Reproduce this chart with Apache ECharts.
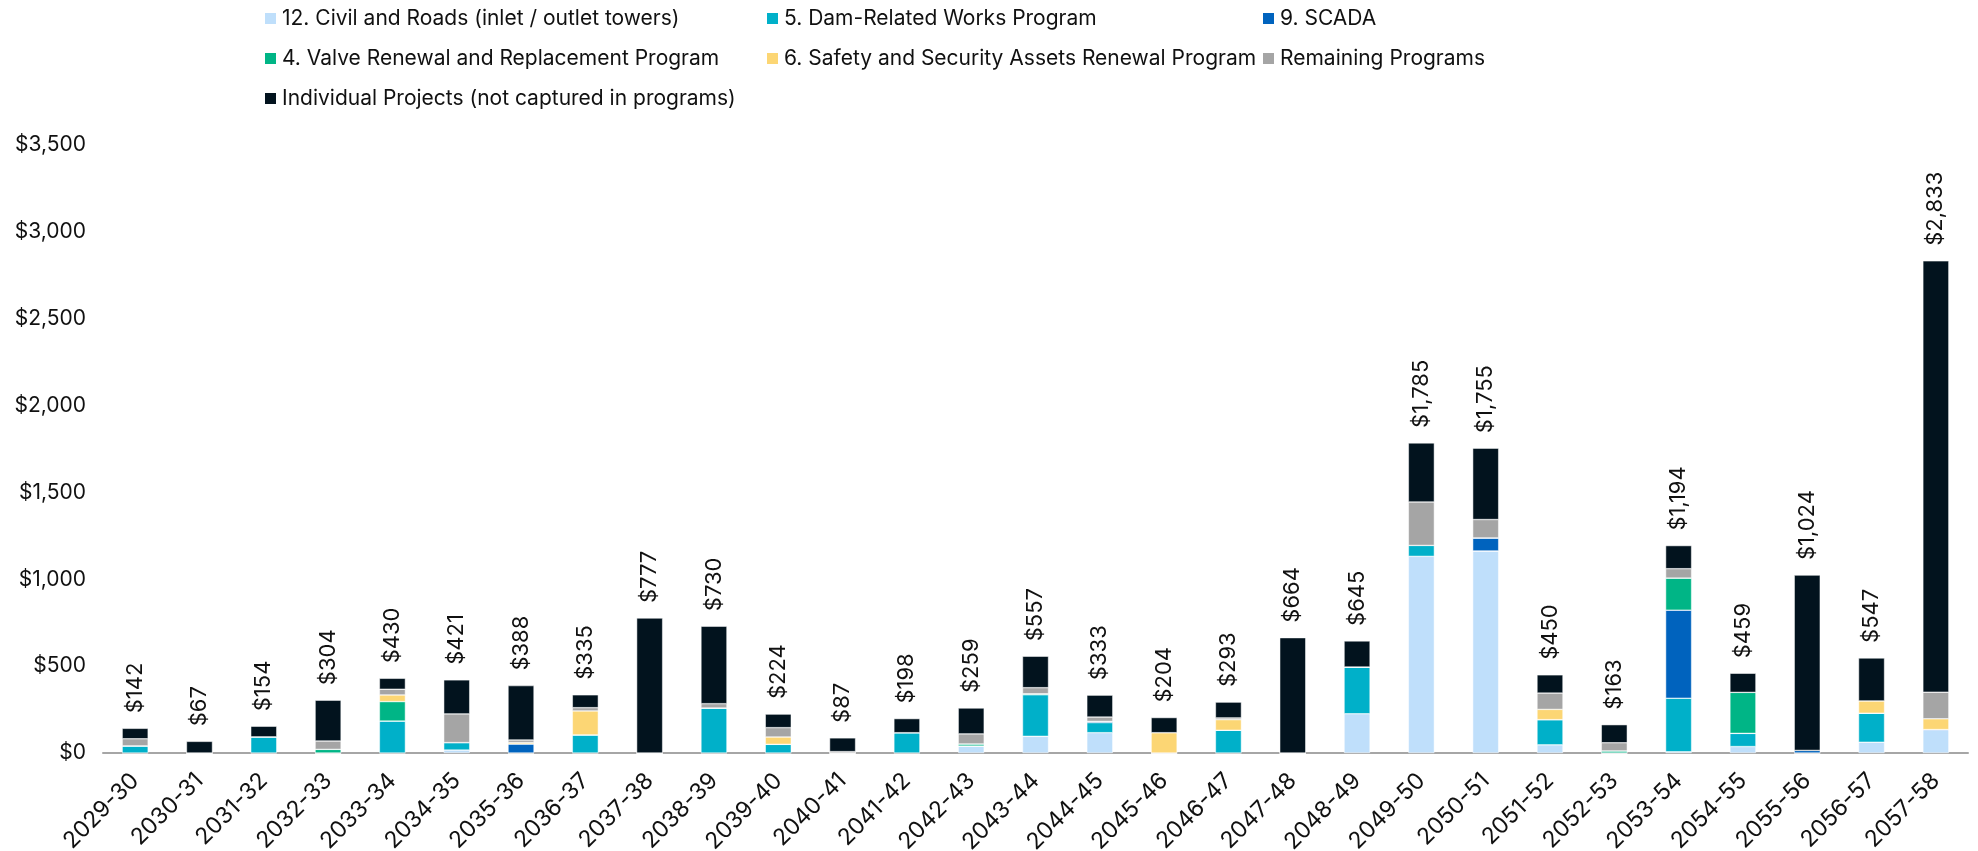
<!DOCTYPE html>
<html>
<head>
<meta charset="utf-8">
<script src="https://cdn.jsdelivr.net/npm/echarts@6/dist/echarts.min.js"></script>
<style>
  html, body { margin: 0; padding: 0; background: #fff; }
  #chart { width: 1978px; height: 851px; }
</style>
</head>
<body>
<div id="chart"></div>
<script>
const years = ['2029-30', '2030-31', '2031-32', '2032-33', '2033-34', '2034-35', '2035-36', '2036-37', '2037-38', '2038-39',
  '2039-40', '2040-41', '2041-42', '2042-43', '2043-44', '2044-45', '2045-46', '2046-47', '2047-48', '2048-49',
  '2049-50', '2050-51', '2051-52', '2052-53', '2053-54', '2054-55', '2055-56', '2056-57', '2057-58']

// segments, bottom to top
const civilRoads = [0, 0, 0, 0, 0, 17, 0, 0, 0, 0, 0, 0, 0, 40, 96, 117, 0, 0, 0, 226, 1132, 1163, 47, 0, 7, 37, 0, 62, 135]
const damWorks = [41, 0, 93, 0, 184, 43, 0, 104, 0, 259, 50, 0, 117, 0, 240, 58, 0, 131, 0, 269, 63, 0, 145, 0, 308, 76, 0, 167, 0]
const scada = [0, 0, 0, 0, 0, 0, 52, 0, 0, 0, 0, 0, 0, 0, 0, 7, 0, 0, 0, 0, 0, 75, 0, 0, 507, 0, 15, 0, 0]
const valveRenewal = [0, 0, 0, 21, 112, 0, 0, 0, 0, 0, 0, 0, 0, 12, 5, 0, 0, 0, 0, 0, 0, 0, 0, 12, 185, 236, 0, 0, 0]
const safetySecurity = [0, 0, 0, 0, 38, 0, 8, 138, 0, 0, 42, 0, 0, 0, 0, 0, 117, 61, 0, 0, 0, 0, 59, 0, 0, 0, 0, 71, 62]
const remaining = [41, 0, 0, 48, 33, 165, 15, 19, 0, 25, 54, 8, 0, 58, 35, 25, 0, 10, 0, 0, 250, 106, 94, 47, 54, 0, 0, 0, 153]
const individual = [60, 67, 61, 235, 63, 196, 313, 74, 777, 446, 78, 79, 81, 149, 181, 126, 87, 91, 664, 150, 340, 411, 105, 104, 133, 110, 1009, 247, 2483]

// totals printed above each bar
const totals = [142, 67, 154, 304, 430, 421, 388, 335, 777, 730, 224, 87, 198, 259, 557, 333, 204, 293, 664, 645,
  1785, 1755, 450, 163, 1194, 459, 1024, 547, 2833]

const yTicks = { min: 0, max: 3500, interval: 500 }

const FONT = 'Inter, "Noto Sans", sans-serif'
const fmt = v => '$' + v.toLocaleString('en-US')

const seriesDefs = [
  { name: '12. Civil and Roads (inlet / outlet towers)', data: civilRoads, color: '#BFDFFB' },
  { name: '5. Dam-Related Works Program', data: damWorks, color: '#00B0C9' },
  { name: '9. SCADA', data: scada, color: '#0063BE' },
  { name: '4. Valve Renewal and Replacement Program', data: valveRenewal, color: '#00B586' },
  { name: '6. Safety and Security Assets Renewal Program', data: safetySecurity, color: '#FCD674' },
  { name: 'Remaining Programs', data: remaining, color: '#A5A5A5' },
  { name: 'Individual Projects (not captured in programs)', data: individual, color: '#02131E' },
]

const legendBase = {
  orient: 'vertical',
  icon: 'rect',
  itemWidth: 13,
  itemHeight: 13,
  itemGap: 19,
  padding: 0,
  top: 8,
  textStyle: { color: '#111', fontSize: 21, fontFamily: FONT, lineHeight: 21 },
}

const chart = echarts.init(document.getElementById('chart'))
chart.setOption({
  animation: false,
  legend: [
    { ...legendBase, left: 263, data: [seriesDefs[0].name, seriesDefs[3].name, seriesDefs[6].name] },
    { ...legendBase, left: 765, data: [seriesDefs[1].name, seriesDefs[4].name] },
    { ...legendBase, left: 1261, data: [seriesDefs[2].name, seriesDefs[5].name] },
  ],
  grid: { top: 145, left: 103, right: 10, bottom: 98, outerBoundsMode: 'none' },
  xAxis: {
    type: 'category',
    data: years,
    axisLine: { lineStyle: { color: '#A6A6A6', width: 2 } },
    axisTick: { show: false },
    axisLabel: { interval: 0, rotate: 45, margin: 24, color: '#111', fontSize: 23, fontFamily: FONT },
  },
  yAxis: {
    type: 'value',
    min: yTicks.min,
    max: yTicks.max,
    interval: yTicks.interval,
    splitLine: { show: false },
    axisLine: { show: false },
    axisTick: { show: false },
    axisLabel: { margin: 17, color: '#111', fontSize: 21, fontFamily: FONT, formatter: fmt },
  },
  series: seriesDefs.map((s, i) => ({
    name: s.name,
    type: 'bar',
    stack: 'total',
    barWidth: 26,
    data: s.data,
    itemStyle: { color: s.color, borderColor: '#fff', borderWidth: 0.5 },
    label: i === seriesDefs.length - 1 ? {
      show: true,
      position: 'top',
      rotate: 90,
      align: 'left',
      verticalAlign: 'middle',
      distance: 15,
      color: '#111',
      fontSize: 22,
      fontFamily: FONT,
      formatter: p => fmt(totals[p.dataIndex]),
    } : { show: false },
  })),
})
</script>
</body>
</html>
